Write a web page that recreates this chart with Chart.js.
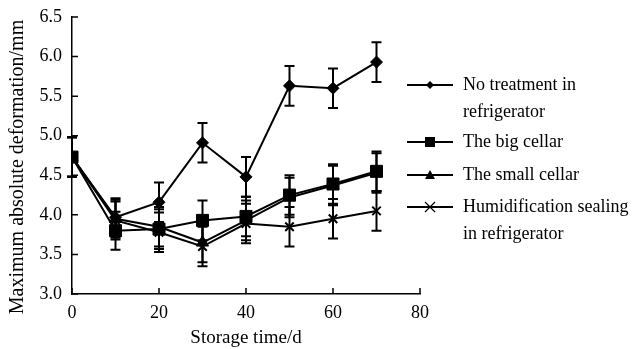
<!DOCTYPE html>
<html>
<head>
<meta charset="utf-8">
<script src="https://cdn.jsdelivr.net/npm/chart.js@4.4.0/dist/chart.umd.min.js"></script>
<style>
  html, body { margin: 0; padding: 0; background: #fff; }
  #wrap { width: 640px; height: 349px; }
</style>
</head>
<body>
<div id="wrap"><canvas id="chart" width="640" height="349"></canvas></div>
<script>
// storage days
const days = [0, 10, 20, 30, 40, 50, 60, 70];

// mean values
const noTreatment  = [4.73, 3.97, 4.16, 4.91, 4.48, 5.63, 5.60, 5.93];
const bigCellar    = [4.73, 3.80, 3.82, 3.93, 3.98, 4.25, 4.39, 4.55];
const smallCellar  = [4.73, 3.95, 3.85, 3.65, 3.93, 4.22, 4.37, 4.53];
const humidSealing = [4.73, 3.93, 3.78, 3.60, 3.89, 3.85, 3.95, 4.05];

// error bar half-widths
const errNoTreatment  = [0.25, 0.24, 0.25, 0.25, 0.25, 0.25, 0.25, 0.25];
const errBigCellar    = [0.25, 0.24, 0.25, 0.25, 0.25, 0.25, 0.25, 0.25];
const errSmallCellar  = [0.25, 0.24, 0.25, 0.25, 0.25, 0.25, 0.25, 0.25];
const errHumidSealing = [0.25, 0.24, 0.25, 0.25, 0.25, 0.25, 0.25, 0.25];

const yTicks = [3.0, 3.5, 4.0, 4.5, 5.0, 5.5, 6.0, 6.5];
const xTicks = [0, 20, 40, 60, 80];

const seriesNames = [
    ['No treatment in', 'refrigerator'],
    ['The big cellar'],
    ['The small cellar'],
    ['Humidification sealing', 'in refrigerator']
];
const yTitle = 'Maximum absolute deformation/mm';

const FONT = '"Liberation Serif", "DejaVu Serif", serif';

const toPoints = (vals) => days.map((d, i) => ({ x: d, y: vals[i] }));

function makeSet(label, vals, errs, style, radius) {
    return {
        label: label.join(' '),
        data: toPoints(vals),
        errors: errs,
        showLine: true,
        borderColor: '#000',
        backgroundColor: '#000',
        borderWidth: 2,
        pointStyle: style,
        pointRadius: radius,
        pointBorderWidth: style === 'crossRot' ? 2 : 1,
        pointBorderColor: '#000',
        pointBackgroundColor: '#000'
    };
}

// error bars + inward ticks + y title + custom legend
const extrasPlugin = {
    id: 'extras',
    beforeDatasetsDraw(chart) {
        const ctx = chart.ctx;
        const xs = chart.scales.x, ys = chart.scales.y;
        ctx.save();
        ctx.strokeStyle = '#000';
        ctx.lineWidth = 2;
        chart.data.datasets.forEach(ds => {
            ds.data.forEach((p, i) => {
                const e = ds.errors[i];
                const px = xs.getPixelForValue(p.x);
                const top = ys.getPixelForValue(p.y + e);
                const bot = ys.getPixelForValue(p.y - e);
                ctx.beginPath();
                ctx.moveTo(px, top); ctx.lineTo(px, bot);
                ctx.moveTo(px - 5, top); ctx.lineTo(px + 5, top);
                ctx.moveTo(px - 5, bot); ctx.lineTo(px + 5, bot);
                ctx.stroke();
            });
        });
        ctx.restore();
    },
    afterDraw(chart) {
        const ctx = chart.ctx;
        const xs = chart.scales.x, ys = chart.scales.y;
        const area = chart.chartArea;
        ctx.save();
        ctx.strokeStyle = '#000';
        ctx.lineWidth = 1.5;
        ctx.beginPath();
        yTicks.forEach(v => {
            const py = ys.getPixelForValue(v);
            ctx.moveTo(area.left, py); ctx.lineTo(area.left + 6, py);
        });
        xTicks.forEach(v => {
            const px = xs.getPixelForValue(v);
            ctx.moveTo(px, area.bottom); ctx.lineTo(px, area.bottom - 6);
        });
        ctx.stroke();

        // y axis title (sits a bit lower than the plot centre in the original)
        ctx.save();
        ctx.translate(18, 167);
        ctx.rotate(-Math.PI / 2);
        ctx.font = '20px ' + FONT;
        ctx.fillStyle = '#000';
        ctx.textAlign = 'center';
        ctx.textBaseline = 'middle';
        ctx.fillText(yTitle, 0, 0);
        ctx.restore();

        // legend
        const lx0 = 407, lx1 = 453, mx = 430, tx = 463;
        const rows = [85, 142, 175, 207];
        const lineGap = 27;
        ctx.font = '18px ' + FONT;
        ctx.fillStyle = '#000';
        ctx.textBaseline = 'middle';
        ctx.textAlign = 'left';
        chart.data.datasets.forEach((ds, k) => {
            const y = rows[k];
            ctx.lineWidth = 2;
            ctx.beginPath();
            ctx.moveTo(lx0, y); ctx.lineTo(lx1, y);
            ctx.stroke();
            ctx.beginPath();
            if (ds.pointStyle === 'rectRot') {
                ctx.moveTo(mx, y - 4); ctx.lineTo(mx + 4, y); ctx.lineTo(mx, y + 4); ctx.lineTo(mx - 4, y);
                ctx.closePath(); ctx.fill();
            } else if (ds.pointStyle === 'rect') {
                ctx.rect(mx - 5, y - 5, 10, 10); ctx.fill();
            } else if (ds.pointStyle === 'triangle') {
                ctx.moveTo(mx, y - 5); ctx.lineTo(mx + 5, y + 4); ctx.lineTo(mx - 5, y + 4);
                ctx.closePath(); ctx.fill();
            } else {
                ctx.lineWidth = 1.2;
                ctx.moveTo(mx - 5, y - 5); ctx.lineTo(mx + 5, y + 5);
                ctx.moveTo(mx + 5, y - 5); ctx.lineTo(mx - 5, y + 5);
                ctx.stroke();
            }
            seriesNames[k].forEach((t, j) => ctx.fillText(t, tx, y + j * lineGap));
        });
        ctx.restore();
    }
};

new Chart(document.getElementById('chart'), {
    type: 'scatter',
    data: {
        datasets: [
            makeSet(seriesNames[0], noTreatment, errNoTreatment, 'rectRot', 6),
            makeSet(seriesNames[1], bigCellar, errBigCellar, 'rect', 8.5),
            makeSet(seriesNames[2], smallCellar, errSmallCellar, 'triangle', 7),
            makeSet(seriesNames[3], humidSealing, errHumidSealing, 'crossRot', 6)
        ]
    },
    options: {
        responsive: false,
        animation: false,
        layout: { padding: { top: 17, right: 220, left: 0, bottom: 0 } },
        plugins: {
            legend: { display: false },
            tooltip: { enabled: false }
        },
        scales: {
            x: {
                type: 'linear',
                min: 0,
                max: 80,
                afterFit: s => { s.height = 55; },
                afterBuildTicks: s => { s.ticks = xTicks.map(v => ({ value: v })); },
                grid: { display: false },
                border: { display: true, color: '#000', width: 1.5 },
                ticks: {
                    color: '#000',
                    padding: 0,
                    font: { family: FONT, size: 18 },
                    callback: v => String(v)
                },
                title: {
                    display: true,
                    text: 'Storage time/d',
                    color: '#000',
                    font: { family: FONT, size: 19 },
                    padding: { top: 0, bottom: 0 }
                }
            },
            y: {
                min: 3.0,
                max: 6.5,
                afterFit: s => { s.width = 72; },
                afterBuildTicks: s => { s.ticks = yTicks.map(v => ({ value: v })); },
                grid: { display: false },
                border: { display: true, color: '#000', width: 1.5 },
                ticks: {
                    color: '#000',
                    padding: 2,
                    font: { family: FONT, size: 18 },
                    callback: v => v.toFixed(1)
                }
            }
        }
    },
    plugins: [extrasPlugin]
});
</script>
</body>
</html>
